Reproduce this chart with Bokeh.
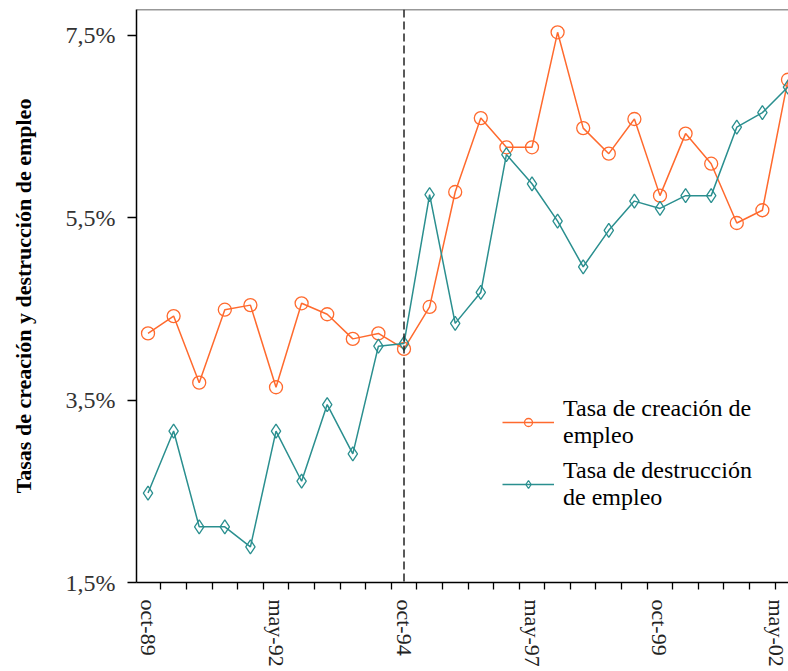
from bokeh.plotting import figure
from bokeh.models import Range1d, FixedTicker, Span, Legend, LegendItem
from bokeh.embed import file_html
from bokeh.resources import INLINE

periods = ["oct-89", "may-90", "oct-90", "may-91", "oct-91", "may-92", "oct-92", "may-93",
           "oct-93", "may-94", "oct-94", "may-95", "oct-95", "may-96", "oct-96", "may-97",
           "oct-97", "may-98", "oct-98", "may-99", "oct-99", "may-00", "oct-00", "may-01",
           "oct-01", "may-02"]
creacion = [4.23, 4.42, 3.69, 4.49, 4.54, 3.64, 4.56, 4.44, 4.17, 4.23, 4.06, 4.52, 5.78,
            6.59, 6.27, 6.27, 7.53, 6.48, 6.20, 6.58, 5.74, 6.42, 6.09, 5.44, 5.58, 7.01]
destruccion = [2.48, 3.16, 2.11, 2.11, 1.89, 3.16, 2.61, 3.45, 2.91, 4.09, 4.12, 5.75, 4.34,
               4.68, 6.19, 5.87, 5.46, 4.96, 5.36, 5.68, 5.60, 5.74, 5.74, 6.49, 6.65, 6.93]
x_tick_labels = ["oct-89", "may-92", "oct-94", "may-97", "oct-99", "may-02"]
y_ticks = [1.5, 3.5, 5.5, 7.5]
y_tick_labels = ["1,5%", "3,5%", "5,5%", "7,5%"]
break_period = "oct-94"

ORANGE = "#FF6A2E"
TEAL = "#2A8F8F"
SERIF = "Liberation Serif"

idx = list(range(len(periods)))

p = figure(frame_width=652, frame_height=573, output_backend="svg", toolbar_location=None,
           x_range=Range1d(-0.45, len(periods) - 0.98), y_range=Range1d(1.5, 7.78),
           min_border_left=136, min_border_top=9, min_border_bottom=89, min_border_right=0,
           background_fill_color="white", border_fill_color="white")
p.outline_line_color = None
p.xgrid.visible = False
p.ygrid.visible = False

# x axis
p.xaxis.ticker = FixedTicker(ticks=[periods.index(l) for l in x_tick_labels],
                             minor_ticks=[i - 0.5 for i in range(len(periods) + 1)])
p.xaxis.major_label_overrides = {periods.index(l): l for l in x_tick_labels}
p.xaxis.major_tick_line_color = None
p.xaxis.minor_tick_line_color = "black"
p.xaxis.minor_tick_line_width = 1.3
p.xaxis.minor_tick_out = 7
p.xaxis.minor_tick_in = 0
p.xaxis.major_label_orientation = "vertical"
p.xaxis.major_label_standoff = 10
p.xaxis.major_label_text_font = SERIF
p.xaxis.major_label_text_font_size = "22px"
p.xaxis.major_label_text_color = "#222222"
p.xaxis.axis_line_color = "black"
p.xaxis.axis_line_width = 1.5

# y axis
p.yaxis.ticker = FixedTicker(ticks=y_ticks, minor_ticks=[])
p.yaxis.major_label_overrides = {t: l for t, l in zip(y_ticks, y_tick_labels)}
p.yaxis.major_tick_out = 9
p.yaxis.major_tick_in = 0
p.yaxis.major_tick_line_width = 1.5
p.yaxis.major_tick_line_color = "black"
p.yaxis.minor_tick_line_color = None
p.yaxis.major_label_standoff = 12
p.yaxis.major_label_text_font = SERIF
p.yaxis.major_label_text_font_size = "24px"
p.yaxis.major_label_text_color = "#333333"
p.yaxis.axis_line_color = "black"
p.yaxis.axis_line_width = 1.5
p.yaxis.axis_label = "Tasas de creación y destrucción de empleo"
p.yaxis.axis_label_text_font = SERIF
p.yaxis.axis_label_text_font_style = "bold"
p.yaxis.axis_label_text_font_size = "22px"
p.yaxis.axis_label_text_color = "black"
p.yaxis.axis_label_standoff = 27

# top border
p.add_layout(Span(location=p.y_range.end, dimension="width", line_color="#333333", line_width=1.5))
# break line
p.add_layout(Span(location=periods.index(break_period), dimension="height", line_color="#222222",
                  line_width=1.5, line_dash="8 4"))

l1 = p.line(idx, creacion, line_color=ORANGE, line_width=1.5)
s1 = p.scatter(idx, creacion, marker="circle", size=13, fill_color=None, line_color=ORANGE, line_width=1.3)
l2 = p.line(idx, destruccion, line_color=TEAL, line_width=1.5)
s2 = p.scatter(idx, destruccion, marker="diamond", size=14, fill_color=None, line_color=TEAL, line_width=1.3)

legend = Legend(items=[LegendItem(label="Tasa de creación de\nempleo", renderers=[l1, s1]),
                       LegendItem(label="Tasa de destrucción\nde empleo", renderers=[l2, s2])],
                location=(366, 71), border_line_color=None, background_fill_alpha=0,
                padding=0, margin=0, glyph_width=52, label_standoff=9, spacing=8,
                label_text_font=SERIF, label_text_font_size="24px", label_text_color="black",
                label_text_line_height=1.3)
p.add_layout(legend)

open("out.html", "w").write(file_html(p, INLINE))
